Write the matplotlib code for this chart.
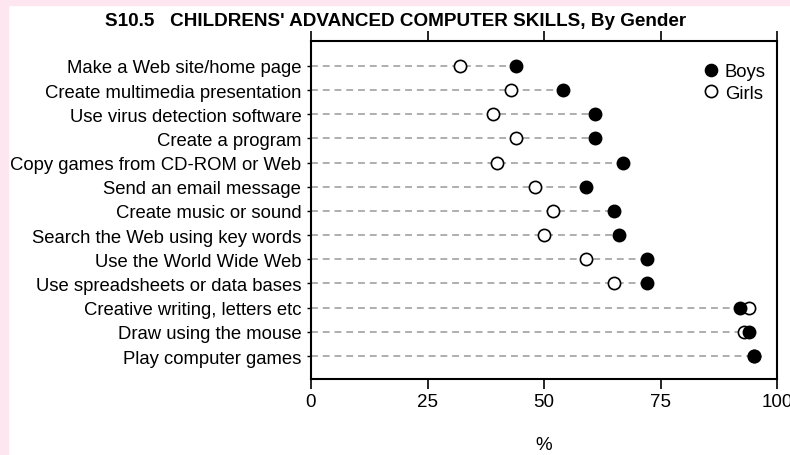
import numpy as np
import matplotlib.pyplot as plt
from matplotlib.lines import Line2D
from matplotlib.patches import Rectangle

# Data (percent of children)
skills = [
    "Make a Web site/home page",
    "Create multimedia presentation",
    "Use virus detection software",
    "Create a program",
    "Copy games from CD-ROM or Web",
    "Send an email message",
    "Create music or sound",
    "Search the Web using key words",
    "Use the World Wide Web",
    "Use spreadsheets or data bases",
    "Creative writing, letters etc",
    "Draw using the mouse",
    "Play computer games",
]
boys = [44, 54, 61, 61, 67, 59, 65, 66, 72, 72, 92, 94, 95]
girls = [32, 43, 39, 44, 40, 48, 52, 50, 59, 65, 94, 93, 95]
x_ticks = [0, 25, 50, 75, 100]

plt.rcParams['font.family'] = ['Liberation Sans', 'DejaVu Sans']

fig = plt.figure(figsize=(7.9, 4.56), dpi=100)
fig.patch.set_facecolor('white')
pink = '#fde6ef'
fig.patches.append(Rectangle((0, 1 - 6 / 456), 1, 6 / 456, transform=fig.transFigure,
                             color=pink, zorder=0))
fig.patches.append(Rectangle((0, 0), 8 / 790, 1, transform=fig.transFigure,
                             color=pink, zorder=0))

ax = fig.add_axes([311 / 790, 1 - 380 / 456, (777 - 311) / 790, (380 - 42) / 456])

y = np.arange(len(skills))
ends = np.maximum(boys, girls)
for yi, xe in zip(y, ends):
    ax.plot([0, xe], [yi, yi], color='#999999', lw=1.1,
            linestyle=(0, (4.5, 3.2)), zorder=1)

ms = 8.8
ax.plot(girls, y, 'o', ms=ms, mfc='white', mec='black', mew=1.2,
        linestyle='none', zorder=2)
ax.plot(boys, y, 'o', ms=ms, mfc='black', mec='black', mew=1.2,
        linestyle='none', zorder=3)

ax.set_xlim(0, 100)
ax.set_ylim(12.95, -1.03)
ax.set_yticks(y)
ax.set_yticklabels(skills, fontsize=13.3)
ax.set_xticks(x_ticks)
ax.set_xticklabels([str(t) for t in x_ticks], fontsize=13.5)
ax.tick_params(axis='y', length=3, width=1, pad=4)
ax.tick_params(axis='x', length=7, width=1.2, top=True, pad=3)
for s in ax.spines.values():
    s.set_linewidth(1.5)

ax.set_xlabel('%', fontsize=13.5, labelpad=19)

handles = [
    Line2D([], [], marker='o', ms=ms, mfc='black', mec='black', ls='none'),
    Line2D([], [], marker='o', ms=ms, mfc='white', mec='black', mew=1.2, ls='none'),
]
ax.legend(handles, ['Boys', 'Girls'], loc='upper right', frameon=False,
          bbox_to_anchor=(1.0 + 11 / 466, 1.0),
          fontsize=13.3, handlelength=1.0, handletextpad=0.25,
          borderaxespad=0.8, labelspacing=0.25)

fig.text(396 / 790, 1 - 22 / 456,
         "S10.5   CHILDRENS' ADVANCED COMPUTER SKILLS, By Gender",
         ha='center', va='center', fontsize=13.6, fontweight='bold')

fig.savefig('out.png', dpi=100)
